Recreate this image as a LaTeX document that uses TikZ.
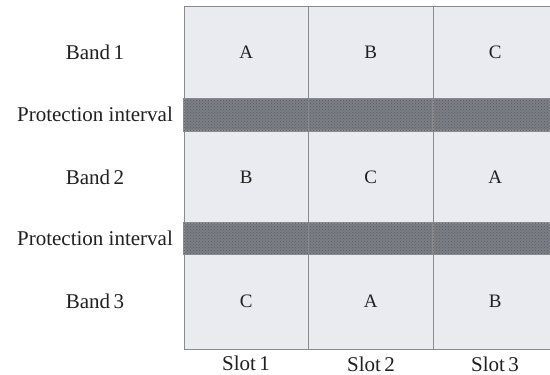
\documentclass[tikz,border=0pt]{standalone}
\usepackage{fontspec}
\setmainfont{Liberation Serif}
\usetikzlibrary{patterns}
\definecolor{cellfill}{HTML}{E9EBF1}
\definecolor{gridline}{HTML}{8A8A8E}
\definecolor{guardfill}{HTML}{7C7E86}
\definecolor{guarddot}{HTML}{5C5E66}
\definecolor{txt}{HTML}{202020}
\tikzset{
  cell/.style={draw=gridline, line width=0.9pt, fill=cellfill, minimum width=124.5pt, inner sep=0pt, text=txt, font=\fontsize{19}{19}\selectfont},
  guard/.style={draw=gridline, line width=0.9pt, fill=guardfill, minimum width=124.5pt, minimum height=32pt, inner sep=0pt},
  dots/.style={pattern=crosshatch dots, pattern color=guarddot},
  lab/.style={text=txt, inner sep=0pt, font=\fontsize{21}{21}\selectfont},
}
\begin{document}
\begin{tikzpicture}[x=1pt,y=-1pt]
\useasboundingbox (0,0) rectangle (550,375);
\fill[white] (0,0) rectangle (550,375);
% rows: band1 6-98, guard 98-131, band2 131-223, guard 223-254, band3 254-349
\foreach \c/\x in {1/246.25,2/370.75,3/495.25}{
  \node[cell, minimum height=92pt] (b1s\c) at (\x,52) {};
  \node[guard] (g1s\c) at (\x,114.5) {};
  \node[cell, minimum height=92pt] (b2s\c) at (\x,177) {};
  \node[guard, minimum height=31pt] (g2s\c) at (\x,238.5) {};
  \node[cell, minimum height=95pt] (b3s\c) at (\x,301.5) {};
  \fill[dots] (g1s\c.north west) rectangle (g1s\c.south east);
  \fill[dots] (g2s\c.north west) rectangle (g2s\c.south east);
  \draw[gridline, line width=0.9pt] (g1s\c.north west) rectangle (g1s\c.south east);
  \draw[gridline, line width=0.9pt] (g2s\c.north west) rectangle (g2s\c.south east);
}
% cell letters
\node[cell, draw=none, fill=none] (t11) at (b1s1) {A};
\node[cell, draw=none, fill=none] (t12) at (b1s2) {B};
\node[cell, draw=none, fill=none] (t13) at (b1s3) {C};
\node[cell, draw=none, fill=none] (t21) at (b2s1) {B};
\node[cell, draw=none, fill=none] (t22) at (b2s2) {C};
\node[cell, draw=none, fill=none] (t23) at (b2s3) {A};
\node[cell, draw=none, fill=none] (t31) at (b3s1) {C};
\node[cell, draw=none, fill=none] (t32) at (b3s2) {A};
\node[cell, draw=none, fill=none] (t33) at (b3s3) {B};
% row labels
\node[lab] (lb1) at (95,52) {Band\,1};
\node[lab] (lg1) at (95,114.5) {Protection interval};
\node[lab] (lb2) at (95,177) {Band\,2};
\node[lab] (lg2) at (95,238.5) {Protection interval};
\node[lab] (lb3) at (95,301.5) {Band\,3};
% column labels
\node[lab] (ls1) at (246,363) {Slot\,1};
\node[lab] (ls2) at (371,364) {Slot\,2};
\node[lab] (ls3) at (495,364) {Slot\,3};
\end{tikzpicture}
\end{document}
